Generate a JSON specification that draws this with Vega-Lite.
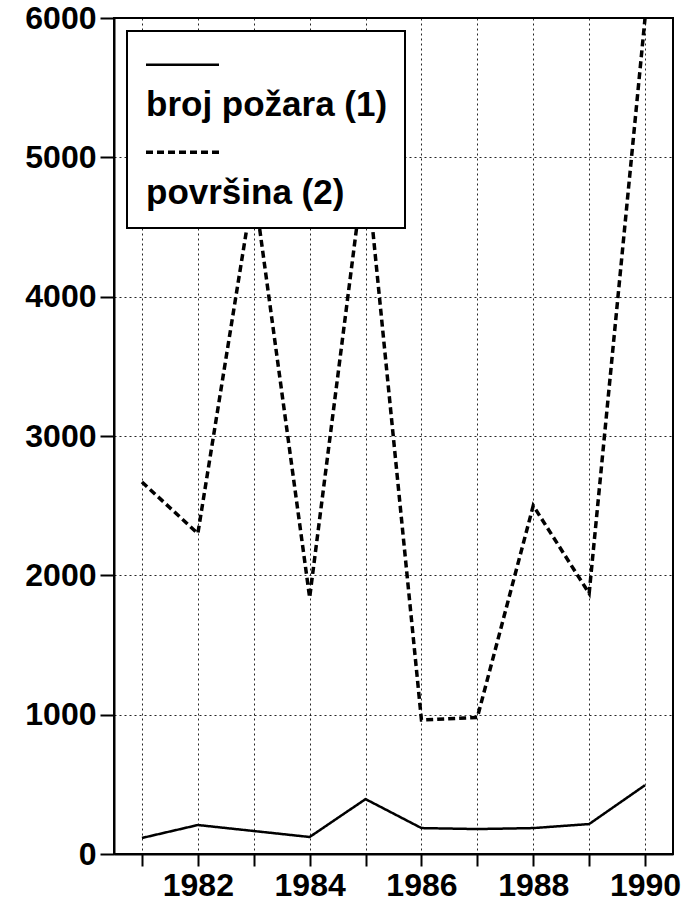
{
  "$schema": "https://vega.github.io/schema/vega-lite/v6.json",
  "width": 559,
  "height": 836,
  "padding": {"left": 24, "top": 2, "right": 2, "bottom": 0},
  "autosize": {"type": "pad"},
  "background": "white",
  "config": {
    "view": {"stroke": "black", "strokeWidth": 2},
    "font": "Liberation Sans",
    "axis": {
      "labelFont": "Liberation Sans",
      "labelFontWeight": "bold",
      "labelFontSize": 32,
      "labelColor": "black",
      "domainColor": "black",
      "domainWidth": 2,
      "tickColor": "black",
      "tickWidth": 2,
      "gridColor": "black",
      "gridDash": [2, 3],
      "gridWidth": 1,
      "gridOpacity": 0.85,
      "labelFlush": false,
      "labelOverlap": false,
      "title": null
    }
  },
  "data": {
    "values": [
      {"godina": 1981, "vrijednost": 115, "serija": "broj požara (1)"},
      {"godina": 1982, "vrijednost": 208, "serija": "broj požara (1)"},
      {"godina": 1983, "vrijednost": 165, "serija": "broj požara (1)"},
      {"godina": 1984, "vrijednost": 122, "serija": "broj požara (1)"},
      {"godina": 1985, "vrijednost": 394, "serija": "broj požara (1)"},
      {"godina": 1986, "vrijednost": 186, "serija": "broj požara (1)"},
      {"godina": 1987, "vrijednost": 179, "serija": "broj požara (1)"},
      {"godina": 1988, "vrijednost": 186, "serija": "broj požara (1)"},
      {"godina": 1989, "vrijednost": 215, "serija": "broj požara (1)"},
      {"godina": 1990, "vrijednost": 494, "serija": "broj požara (1)"},
      {"godina": 1981, "vrijednost": 2670, "serija": "površina (2)"},
      {"godina": 1982, "vrijednost": 2300, "serija": "površina (2)"},
      {"godina": 1983, "vrijednost": 4800, "serija": "površina (2)"},
      {"godina": 1984, "vrijednost": 1840, "serija": "površina (2)"},
      {"godina": 1985, "vrijednost": 5000, "serija": "površina (2)"},
      {"godina": 1986, "vrijednost": 962, "serija": "površina (2)"},
      {"godina": 1987, "vrijednost": 980, "serija": "površina (2)"},
      {"godina": 1988, "vrijednost": 2500, "serija": "površina (2)"},
      {"godina": 1989, "vrijednost": 1870, "serija": "površina (2)"},
      {"godina": 1990, "vrijednost": 6000, "serija": "površina (2)"}
    ]
  },
  "mark": {"type": "line", "color": "black"},
  "encoding": {
    "x": {
      "field": "godina",
      "type": "quantitative",
      "scale": {"domain": [1980.5, 1990.5], "nice": false, "zero": false},
      "axis": {
        "values": [1981, 1982, 1983, 1984, 1985, 1986, 1987, 1988, 1989, 1990],
        "format": "d",
        "labelExpr": "datum.value % 2 == 0 ? datum.label : ''",
        "tickSize": 12,
        "labelPadding": 4,
        "grid": true
      }
    },
    "y": {
      "field": "vrijednost",
      "type": "quantitative",
      "scale": {"domain": [0, 6000], "nice": false},
      "axis": {
        "values": [0, 1000, 2000, 3000, 4000, 5000, 6000],
        "format": "d",
        "tickSize": 14,
        "labelPadding": 4,
        "grid": true
      }
    },
    "strokeWidth": {
      "field": "serija",
      "type": "nominal",
      "scale": {"domain": ["broj požara (1)", "površina (2)"], "range": [2.5, 3.5]},
      "legend": null
    },
    "strokeDash": {
      "field": "serija",
      "type": "nominal",
      "scale": {"domain": ["broj požara (1)", "površina (2)"], "range": [[1, 0], [7, 4]]},
      "legend": {
        "orient": "top-left",
        "offset": 13,
        "title": " ",
        "titleFontSize": 12,
        "titlePadding": 7,
        "strokeColor": "black",
        "fillColor": "white",
        "padding": 17,
        "symbolType": "M-1,-1.1L1,-1.1",
        "symbolSize": 5329,
        "symbolStrokeWidth": 2.5,
        "symbolStrokeColor": "black",
        "symbolFillColor": "transparent",
        "labelFont": "Liberation Sans",
        "labelFontWeight": "bold",
        "labelFontSize": 35,
        "labelColor": "black",
        "labelLimit": 0,
        "labelOffset": -75,
        "rowPadding": 22,
        "encode": {"legend": {"update": {"strokeWidth": {"value": 2}}}}
      }
    }
  }
}
